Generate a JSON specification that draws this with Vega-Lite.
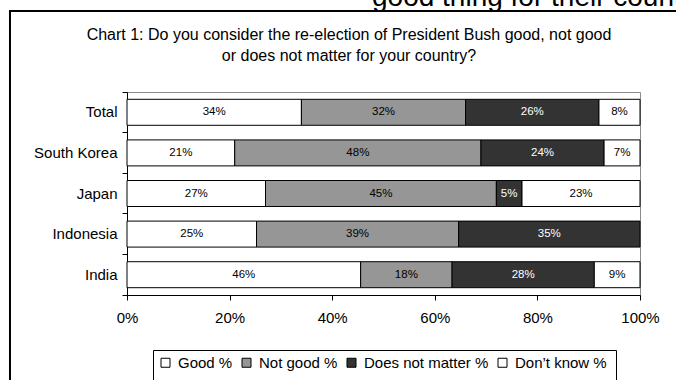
{
  "$schema": "https://vega.github.io/schema/vega-lite/v6.json",
  "autosize": {"type": "none"},
  "width": 513,
  "height": 203,
  "padding": {"left": 127, "top": 92, "right": 36, "bottom": 85},
  "background": "white",
  "title": {
    "text": ["Chart 1: Do you consider the re-election of President Bush good, not good", "or does not matter for your country?"],
    "anchor": "middle",
    "dx": -34.5,
    "offset": -80,
    "font": "Liberation Sans",
    "fontSize": 16,
    "fontWeight": "normal",
    "color": "black",
    "lineHeight": 21
  },
  "config": {
    "view": {"stroke": "#8c8c8c", "strokeWidth": 1},
    "font": "Liberation Sans"
  },
  "resolve": {"scale": {"x": "independent", "y": "independent"}, "axis": {"x": "independent", "y": "independent"}},
  "layer": [
    {
      "data": {"values": [{"part": "frame"}]},
      "layer": [
        {
          "mark": {"type": "rect", "fill": "transparent", "stroke": "black", "strokeWidth": 2},
          "encoding": {
            "x": {"datum": -0.2281, "type": "quantitative", "scale": {"domain": [0, 1], "nice": false, "zero": false}, "axis": null},
            "x2": {"datum": 1.117},
            "y": {"datum": 1.399, "type": "quantitative", "scale": {"domain": [0, 1], "nice": false, "zero": false}, "axis": null},
            "y2": {"datum": -0.567}
          }
        },
        {
          "mark": {"type": "text", "align": "left", "baseline": "alphabetic", "font": "Liberation Sans", "fontSize": 28, "color": "black"},
          "encoding": {
            "x": {"datum": 0.4776, "type": "quantitative"},
            "y": {"datum": 1.4212, "type": "quantitative"},
            "text": {"value": "good thing for their country"}
          }
        }
      ]
    },
    {
      "data": {
        "values": [
          {"country": "Total", "cat": "Good %", "pct": 34},
          {"country": "Total", "cat": "Not good %", "pct": 32},
          {"country": "Total", "cat": "Does not matter %", "pct": 26},
          {"country": "Total", "cat": "Don’t know  %", "pct": 8},
          {"country": "South Korea", "cat": "Good %", "pct": 21},
          {"country": "South Korea", "cat": "Not good %", "pct": 48},
          {"country": "South Korea", "cat": "Does not matter %", "pct": 24},
          {"country": "South Korea", "cat": "Don’t know  %", "pct": 7},
          {"country": "Japan", "cat": "Good %", "pct": 27},
          {"country": "Japan", "cat": "Not good %", "pct": 45},
          {"country": "Japan", "cat": "Does not matter %", "pct": 5},
          {"country": "Japan", "cat": "Don’t know  %", "pct": 23},
          {"country": "Indonesia", "cat": "Good %", "pct": 25},
          {"country": "Indonesia", "cat": "Not good %", "pct": 39},
          {"country": "Indonesia", "cat": "Does not matter %", "pct": 35},
          {"country": "India", "cat": "Good %", "pct": 46},
          {"country": "India", "cat": "Not good %", "pct": 18},
          {"country": "India", "cat": "Does not matter %", "pct": 28},
          {"country": "India", "cat": "Don’t know  %", "pct": 9}
        ]
      },
      "transform": [
        {"calculate": "indexof(['Good %','Not good %','Does not matter %','Don’t know  %'], datum.cat)", "as": "ord"},
        {"stack": "pct", "groupby": ["country"], "sort": [{"field": "ord", "order": "ascending"}], "offset": "normalize", "as": ["x0", "x1"]},
        {"calculate": "(datum.x0 + datum.x1) / 2", "as": "xm"},
        {"calculate": "datum.pct + '%'", "as": "lbl"}
      ],
      "layer": [
        {
          "mark": {"type": "bar", "stroke": "black", "strokeWidth": 1, "height": {"band": 0.64}},
          "encoding": {
            "y": {
              "field": "country", "type": "nominal",
              "scale": {"domain": ["Total", "South Korea", "Japan", "Indonesia", "India"], "paddingInner": 0, "paddingOuter": 0},
              "axis": {
                "orient": "left",
                "title": null, "labelFont": "Liberation Sans", "labelFontSize": 15, "labelColor": "black",
                "domainColor": "black", "tickColor": "black", "tickSize": 5, "labelPadding": 5,
                "bandPosition": 1, "tickExtra": true, "grid": false
              }
            },
            "x": {
              "field": "x0", "type": "quantitative",
              "scale": {"domain": [0, 1], "nice": false},
              "axis": {
                "orient": "bottom",
                "title": null, "values": [0, 0.2, 0.4, 0.6, 0.8, 1], "format": ".0%",
                "labelFont": "Liberation Sans", "labelFontSize": 15, "labelColor": "black",
                "domainColor": "black", "tickColor": "black", "tickSize": 5, "labelPadding": 10,
                "labelFlush": false, "grid": false
              }
            },
            "x2": {"field": "x1"},
            "color": {
              "field": "cat", "type": "nominal",
              "scale": {"domain": ["Good %", "Not good %", "Does not matter %", "Don’t know  %"], "range": ["#ffffff", "#969696", "#333333", "#ffffff"]},
              "legend": {
                "orient": "none", "legendX": 26, "legendY": 258, "direction": "horizontal", "columns": 4,
                "symbolType": "square", "symbolSize": 81, "symbolStrokeColor": "black", "symbolStrokeWidth": 1, "symbolOpacity": 1,
                "labelFont": "Liberation Sans", "labelFontSize": 15, "labelColor": "black", "labelOffset": 5, "labelLimit": 0,
                "columnPadding": 6, "padding": 5, "strokeColor": "black",
                "title": " ", "titleOrient": "bottom", "titleFontSize": 10, "titlePadding": 2
              }
            }
          }
        },
        {
          "mark": {"type": "text", "font": "Liberation Sans", "fontSize": 11.5, "baseline": "middle", "align": "center"},
          "encoding": {
            "y": {"field": "country", "type": "nominal"},
            "x": {"field": "xm", "type": "quantitative"},
            "text": {"field": "lbl"},
            "color": {"condition": {"test": "datum.cat === 'Does not matter %'", "value": "white"}, "value": "black"}
          }
        }
      ]
    }
  ]
}
